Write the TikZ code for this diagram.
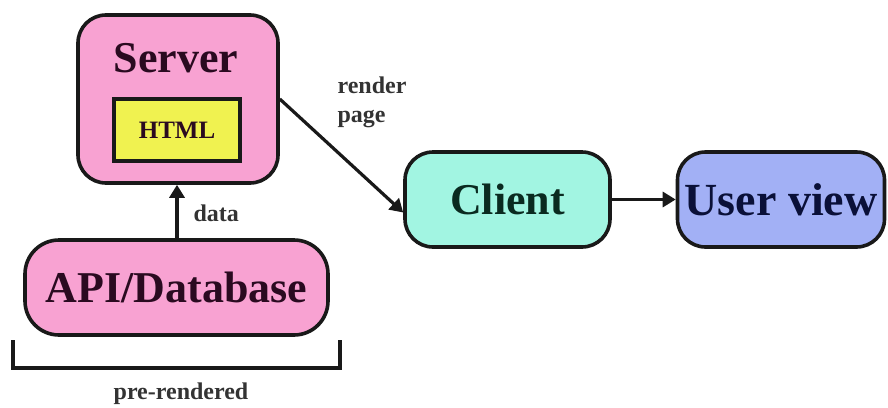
\documentclass[tikz,border=0pt]{standalone}
\usepackage{fontspec}
\setmainfont{Liberation Serif}
\usetikzlibrary{arrows.meta}
\definecolor{pinkfill}{HTML}{F8A2D2}
\definecolor{yellowfill}{HTML}{F0F250}
\definecolor{clientfill}{HTML}{A2F5E2}
\definecolor{userfill}{HTML}{A2B0F5}
\definecolor{pinktext}{HTML}{2A0A20}
\definecolor{greentext}{HTML}{0A2A20}
\definecolor{bluetext}{HTML}{0A1038}
\tikzset{
  box/.style={draw=black!90, line width=3.6pt, rounded corners=28pt, inner sep=0pt},
  bigtext/.style={font=\fontsize{44}{48}\selectfont\bfseries},
  smalltext/.style={font=\fontsize{24}{28}\selectfont\bfseries, text=black!80},
  conn/.style={line width=3.2pt, draw=black!90, -{Triangle[length=13pt,width=15pt]}},
}
\begin{document}
\begin{tikzpicture}[x=1pt,y=-1pt]
\useasboundingbox (0,0) rectangle (888,407);
% Server
\node[box, fill=pinkfill, minimum width=200pt, minimum height=168pt] (server) at (178,99) {};
\node[bigtext, text=pinktext, anchor=base] (servertext) at (176,72) {Server};
\node[draw=black!90, line width=3.6pt, fill=yellowfill, minimum width=126pt, minimum height=62pt, inner sep=0pt,
      font=\fontsize{25}{28}\selectfont\bfseries, text=pinktext] (html) at (177,130) {HTML};
% API
\node[box, rounded corners=34pt, fill=pinkfill, minimum width=303pt, minimum height=95pt,
      bigtext, text=pinktext] (api) at (176.5,287.5) {API/Database};
% Client
\node[box, fill=clientfill, minimum width=205pt, minimum height=95pt,
      bigtext, text=greentext] (client) at (507.5,199.5) {Client};
% User view
\node[box, fill=userfill, minimum width=207pt, minimum height=95pt,
      font=\fontsize{46}{50}\selectfont\bfseries, text=bluetext] (user) at (781,199.5) {User view};
% arrows
\draw[conn] (api.north -| html.south) -- (server.south -| html.south);
\node[smalltext, anchor=west] (datalabel) at (190,213) {data};
\draw[conn] (server.east) -- ([yshift=-13pt]client.west);
\node[smalltext, anchor=base west, align=left] (renderlabel) at (334,122) {render\\[1pt]page};
\draw[conn] (client.east) -- (user.west);
% bracket
\coordinate (bl) at (13,340);
\coordinate (br) at (340,340);
\draw[line width=3.4pt, draw=black!90] (bl) -- (13,368) -- (340,368) -- (br);
\node[smalltext, anchor=base] (prelabel) at (181,399) {pre-rendered};
\end{tikzpicture}
\end{document}
